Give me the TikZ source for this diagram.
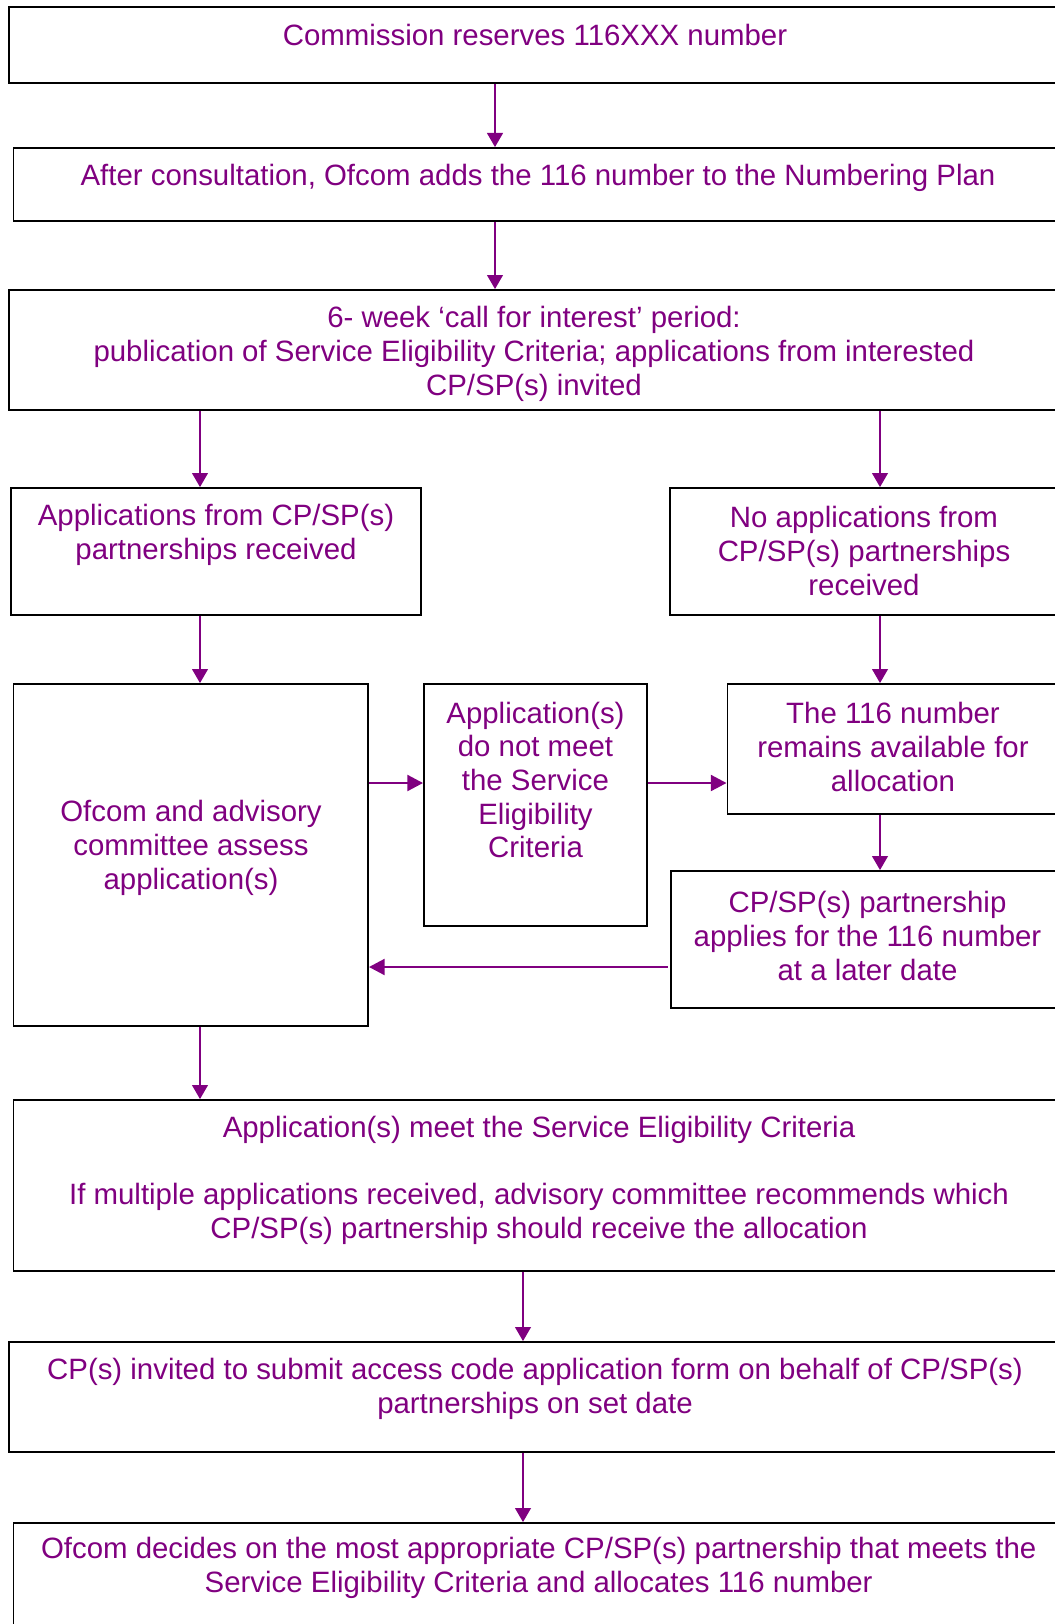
\documentclass[tikz,border=0pt]{standalone}
\usepackage{fontspec}
\setmainfont{Liberation Sans}
\usetikzlibrary{arrows.meta,fit}
\definecolor{ofpurple}{RGB}{128,0,128}
\tikzset{
  box/.style={draw=black, line width=0.75pt, inner sep=0pt},
  txt/.style={text=ofpurple, align=center, inner sep=0pt, font=\fontsize{12.1}{13.85}\selectfont},
  arr/.style={draw=ofpurple, line width=0.75pt, -{Triangle[width=6.5pt,length=5.8pt]}},
  harr/.style={arr, line width=1.2pt, -{Triangle[width=6.5pt,length=6.5pt]}}
}
\begin{document}
\begin{tikzpicture}[x=0.4115pt, y=-0.4115pt]
  \useasboundingbox (0,0) rectangle (1055,1624);

  % boxes
  \node[box, fit={(9.4,7) (1061,83)}] (commission) {};
  \node[box, fit={(13.5,148) (1062,221)}] (consult) {};
  \node[box, fit={(9.4,290) (1059,410)}] (callint) {};
  \node[box, fit={(11.4,488) (420.6,615)}] (apprecv) {};
  \node[box, fit={(669.6,488) (1058,615)}] (noapp) {};
  \node[box, fit={(13.5,684) (368,1026)}] (assess) {};
  \node[box, fit={(424,684) (647,926)}] (notmeet) {};
  \node[box, fit={(727.5,684) (1059,814)}] (remains) {};
  \node[box, fit={(671,871) (1064,1008)}] (later) {};
  \node[box, fit={(13.5,1100) (1065,1271)}] (meet) {};
  \node[box, fit={(9.4,1342) (1061,1452)}] (invited) {};
  \node[box, fit={(13.5,1523) (1064,1660)}] (decides) {};

  % texts
  \node[txt] (commissiontxt) at (535,35) {Commission reserves 116XXX number};
  \node[txt] (consulttxt) at (538,178) {After consultation, Ofcom adds the 116 number to the Numbering Plan};
  \node[txt] (callinttxt) at (534,354) {6- week ‘call for interest’ period:\\publication of Service Eligibility Criteria; applications from interested\\CP/SP(s) invited};
  \node[txt] (apprecvtxt) at (216,535) {Applications from CP/SP(s)\\partnerships received};
  \node[txt] (noapptxt) at (864,551) {No applications from\\CP/SP(s) partnerships\\received};
  \node[txt] (assesstxt) at (191,848) {Ofcom and advisory\\committee assess\\application(s)};
  \node[txt] (notmeettxt) at (535.5,780) {Application(s)\\do not meet\\the Service\\Eligibility\\Criteria};
  \node[txt] (remainstxt) at (893,747) {The 116 number\\remains available for\\allocation};
  \node[txt] (latertxt) at (867.5,936) {CP/SP(s) partnership\\applies for the 116 number\\at a later date};
  \node[txt] (meettxt) at (539,1180) {Application(s) meet the Service Eligibility Criteria\\[13.85pt]If multiple applications received, advisory committee recommends which\\CP/SP(s) partnership should receive the allocation};
  \node[txt] (invitedtxt) at (535,1389) {CP(s) invited to submit access code application form on behalf of CP/SP(s)\\partnerships on set date};
  \node[txt] (decidestxt) at (538.7,1568) {Ofcom decides on the most appropriate CP/SP(s) partnership that meets the\\Service Eligibility Criteria and allocates 116 number};

  % connectors
  \draw[arr] (495,0 |- commission.south) -- (495,0 |- consult.north);
  \draw[arr] (495,0 |- consult.south) -- (495,0 |- callint.north);
  \draw[arr] (200,0 |- callint.south) -- (200,0 |- apprecv.north);
  \draw[arr] (880,0 |- callint.south) -- (880,0 |- noapp.north);
  \draw[arr] (200,0 |- apprecv.south) -- (200,0 |- assess.north);
  \draw[arr] (880,0 |- noapp.south) -- (880,0 |- remains.north);
  \draw[harr] (assess.east |- 0,783) -- (notmeet.west |- 0,783);
  \draw[harr] (notmeet.east |- 0,783) -- (remains.west |- 0,783);
  \draw[arr] (880,0 |- remains.south) -- (880,0 |- later.north);
  \draw[harr] ([xshift=-1pt]later.west |- 0,967) -- (assess.east |- 0,967);
  \draw[arr] (200,0 |- assess.south) -- (200,0 |- meet.north);
  \draw[arr] (523,0 |- meet.south) -- (523,0 |- invited.north);
  \draw[arr] (523,0 |- invited.south) -- (523,0 |- decides.north);
\end{tikzpicture}
\end{document}
